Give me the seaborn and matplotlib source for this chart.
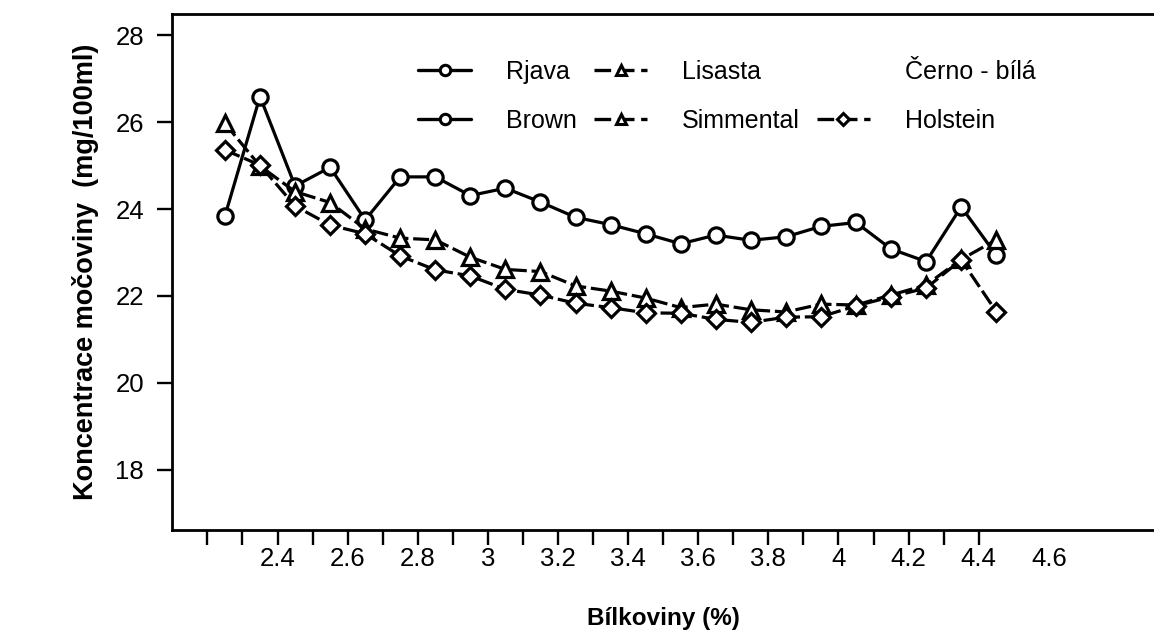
import numpy as np
import pandas as pd
import matplotlib
matplotlib.use("Agg")
import matplotlib.pyplot as plt
from matplotlib.lines import Line2D
from matplotlib.ticker import FixedLocator
import seaborn as sns

# ---- data ----
protein = [2.25, 2.35, 2.45, 2.55, 2.65, 2.75, 2.85, 2.95, 3.05, 3.15, 3.25, 3.35,
           3.45, 3.55, 3.65, 3.75, 3.85, 3.95, 4.05, 4.15, 4.25, 4.35, 4.45]
rjava = [23.84, 26.59, 24.53, 24.96, 23.75, 24.74, 24.74, 24.31, 24.48, 24.16, 23.81, 23.64,
         23.43, 23.20, 23.40, 23.28, 23.36, 23.60, 23.69, 23.08, 22.79, 24.05, 22.94]
lisasta = [25.97, 24.99, 24.40, 24.15, 23.54, 23.33, 23.29, 22.89, 22.61, 22.56, 22.23, 22.11,
           21.95, 21.73, 21.81, 21.68, 21.63, 21.81, 21.79, 22.02, 22.25, 22.84, 23.29]
holstein = [25.36, 25.01, 24.07, 23.63, 23.43, 22.92, 22.60, 22.46, 22.15, 22.02, 21.83, 21.73,
            21.61, 21.60, 21.46, 21.39, 21.51, 21.52, 21.77, 21.98, 22.18, 22.83, 21.64]
breeds = ["Rjava", "Lisasta", "Holstein"]
xtick_labels = ["2.4", "2.6", "2.8", "3", "3.2", "3.4", "3.6", "3.8", "4", "4.2", "4.4", "4.6"]
xtick_values = [2.4, 2.6, 2.8, 3.0, 3.2, 3.4, 3.6, 3.8, 4.0, 4.2, 4.4, 4.6]
xminor_values = [2.2, 2.3, 2.4, 2.5, 2.6, 2.7, 2.8, 2.9, 3.0, 3.1, 3.2, 3.3,
                 3.4, 3.5, 3.6, 3.7, 3.8, 3.9, 4.0, 4.1, 4.2, 4.3, 4.4]
ytick_values = [18, 20, 22, 24, 26, 28]

df = pd.DataFrame({
    "protein": protein * 3,
    "urea": rjava + lisasta + holstein,
    "breed": ["Rjava"] * len(protein) + ["Lisasta"] * len(protein) + ["Holstein"] * len(protein),
})

sns.set_theme(style="white")
plt.rcParams["font.family"] = ["Liberation Sans", "DejaVu Sans"]
plt.rcParams["text.color"] = "black"
plt.rcParams["axes.labelcolor"] = "black"

fig = plt.figure(figsize=(11.54, 6.33), dpi=100)
ax = fig.add_axes([172 / 1154, 103 / 633, 982 / 1154, 516 / 633])

dash = (5, 1.5)
sns.lineplot(
    data=df, x="protein", y="urea", style="breed", style_order=breeds,
    markers={"Rjava": "o", "Lisasta": "^", "Holstein": "D"},
    dashes={"Rjava": "", "Lisasta": dash, "Holstein": dash},
    color="black", linewidth=2.3, markersize=11, markeredgewidth=2.3,
    markerfacecolor="white", markeredgecolor="black",
    errorbar=None, sort=False, legend=False, ax=ax,
)
for ln in ax.lines:
    if ln.get_marker() == "D":
        ln.set_markersize(9.5)

ax.set_xlim(2.099, 4.90)
ax.set_ylim(16.61, 28.49)

for s in ["left", "top", "bottom"]:
    ax.spines[s].set_visible(True)
    ax.spines[s].set_color("black")
    ax.spines[s].set_linewidth(2.0)
ax.spines["right"].set_visible(False)

# x ticks: labels without marks, marks on minor ticks
ax.xaxis.remove_overlapping_locs = False
ax.set_xticks(xtick_values)
ax.set_xticklabels(xtick_labels)
ax.xaxis.set_minor_locator(FixedLocator(xminor_values))
ax.tick_params(axis="x", which="major", length=0, pad=12, labelsize=18.5, colors="black")
ax.tick_params(axis="x", which="minor", bottom=True, length=11, width=1.7, color="black")

ax.set_yticks(ytick_values)
ax.set_yticklabels([str(v) for v in ytick_values])
ax.tick_params(axis="y", which="major", left=True, length=11, width=1.7, pad=9,
               labelsize=18.5, colors="black")

ax.set_xlabel("Bílkoviny (%)", fontsize=17.5, fontweight="bold", labelpad=26)
ax.set_ylabel("Koncentrace močoviny  (mg/100ml)", fontsize=19.5, fontweight="bold", labelpad=12)
ax.grid(False)

# legend
h_circ = Line2D([], [], color="black", lw=2.4, marker="o", markersize=7.5,
                markerfacecolor="white", markeredgewidth=2.2)
h_tri = Line2D([], [], color="black", lw=2.4, marker="^", markersize=7.5,
               markerfacecolor="white", markeredgewidth=2.2, linestyle=(0, (5, 2)))
h_dia = Line2D([], [], color="black", lw=2.4, marker="D", markersize=6.5,
               markerfacecolor="white", markeredgewidth=2.2, linestyle=(0, (5, 2)))
h_blank = Line2D([], [], linestyle="none")
handles = [h_circ, h_circ, h_tri, h_tri, h_blank, h_dia]
labels = ["Rjava", "Brown", "Lisasta", "Simmental", "Černo - bílá", "Holstein"]
leg = ax.legend(handles, labels, ncol=3, loc="upper left", bbox_to_anchor=(0.228, 0.955),
                frameon=False, fontsize=18, handlelength=2.1, handletextpad=1.4,
                columnspacing=0.7, labelspacing=1.0)

fig.savefig("out.png", dpi=100)
